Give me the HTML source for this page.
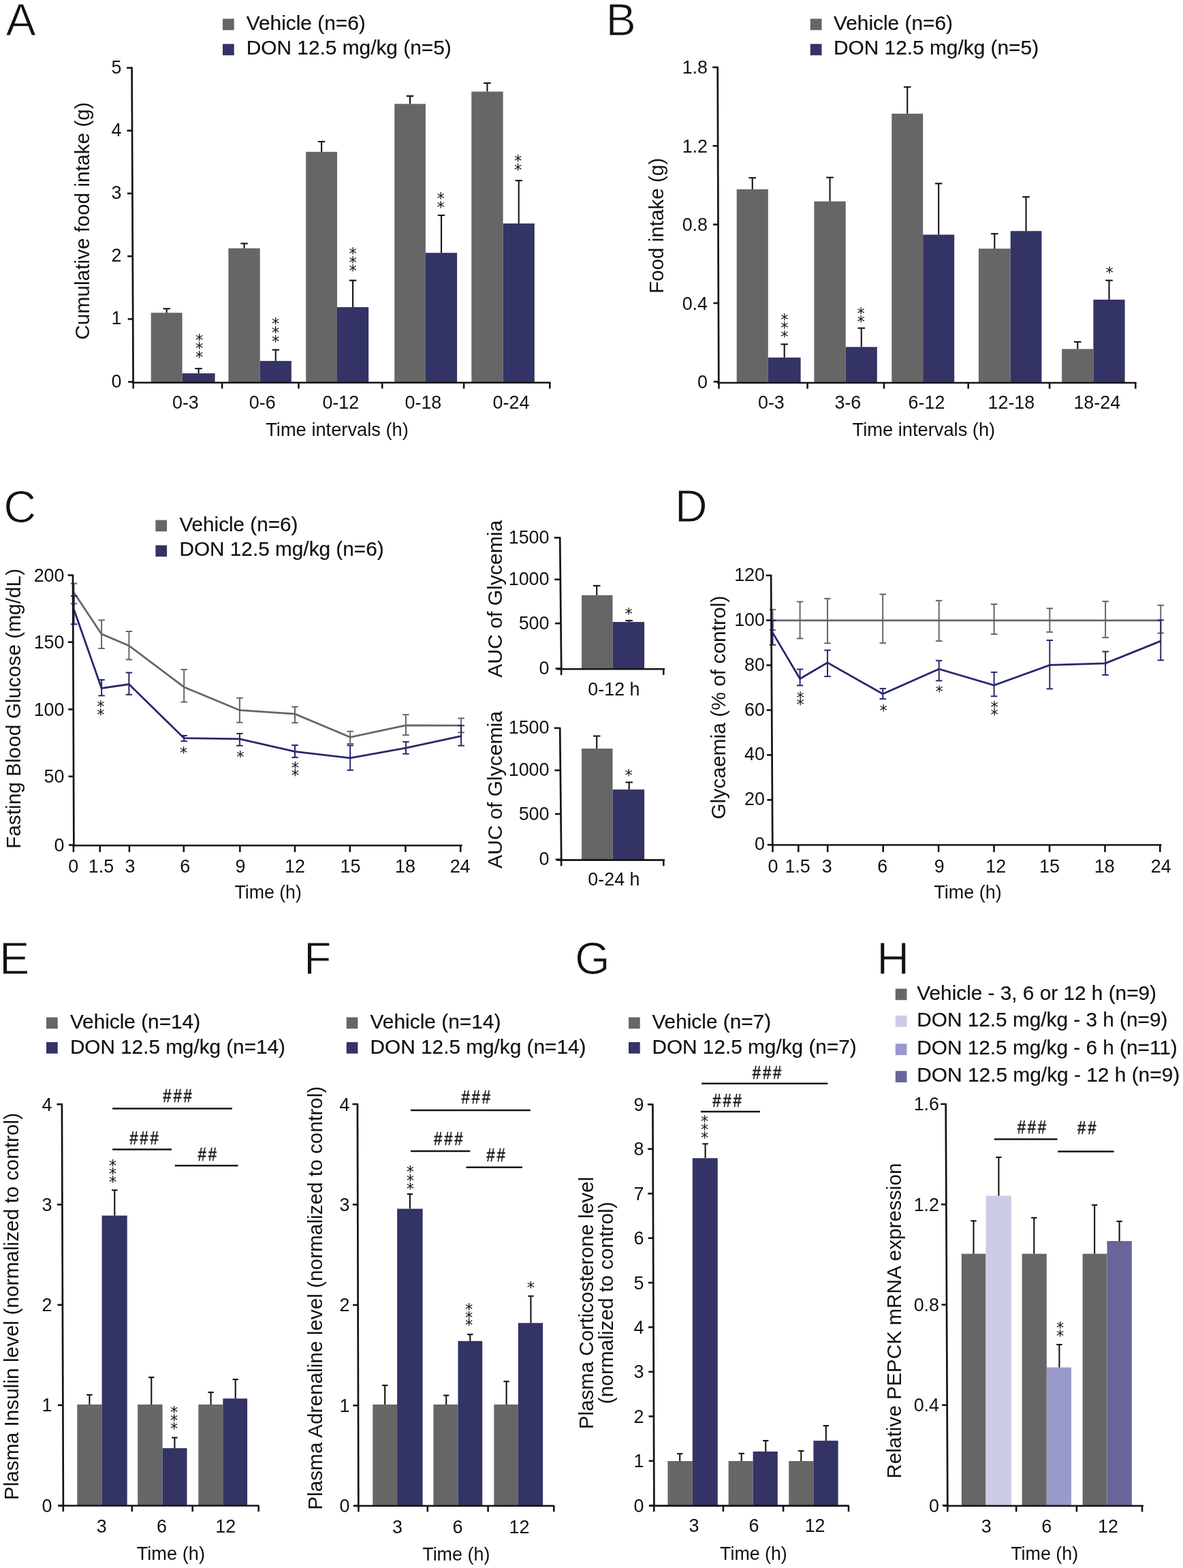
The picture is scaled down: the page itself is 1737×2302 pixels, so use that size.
<!DOCTYPE html>
<html><head><meta charset="utf-8"><title>Figure</title><style>
html,body{margin:0;padding:0;background:#fff;}
svg{display:block;}
text{font-family:"Liberation Sans",Arial,sans-serif;}
text.let{stroke:#fff;stroke-width:1.1px;}
text.leg{stroke:#111;stroke-width:0.2px;}
text.hs{stroke:#111;stroke-width:0.45px;}
text.st{font-family:"DejaVu Sans","Liberation Sans",sans-serif;fill:#111;text-anchor:middle;}
</style></head><body>
<svg width="1737" height="2302" viewBox="0 0 1737 2302">
<rect width="1737" height="2302" fill="#fff"/>
<text x="8.6" y="51.9" font-size="66.5" fill="#111" class="let">A</text>
<rect x="327" y="27.5" width="16.7" height="16.7" fill="#666666"/>
<text x="361.7" y="43.8" font-size="29.5" fill="#111" textLength="175" lengthAdjust="spacingAndGlyphs" class="leg">Vehicle (n=6)</text>
<rect x="327" y="64.5" width="16.7" height="16.7" fill="#333366"/>
<text x="361.7" y="80.2" font-size="29.5" fill="#111" textLength="301.1" lengthAdjust="spacingAndGlyphs" class="leg">DON 12.5 mg/kg (n=5)</text>
<rect x="221.7" y="459.2" width="45.9" height="101.8" fill="#666666"/>
<rect x="267.6" y="548.1" width="48" height="12.9" fill="#333366"/>
<rect x="335.4" y="364.5" width="46.3" height="196.5" fill="#666666"/>
<rect x="381.7" y="529.9" width="46.1" height="31.1" fill="#333366"/>
<rect x="449.2" y="222.9" width="45.8" height="338.1" fill="#666666"/>
<rect x="495" y="450.9" width="46.2" height="110.1" fill="#333366"/>
<rect x="579.2" y="152.5" width="45.7" height="408.5" fill="#666666"/>
<rect x="624.9" y="371.2" width="46.2" height="189.8" fill="#333366"/>
<rect x="692.3" y="134.5" width="46.3" height="426.5" fill="#666666"/>
<rect x="738.6" y="328.1" width="46.2" height="232.9" fill="#333366"/>
<line x1="244.65" y1="459.2" x2="244.65" y2="453.2" stroke="#141414" stroke-width="2.1" stroke-linecap="butt"/>
<line x1="239.4" y1="453.2" x2="249.9" y2="453.2" stroke="#141414" stroke-width="2.1" stroke-linecap="butt"/>
<line x1="291.6" y1="548.1" x2="291.6" y2="541.1" stroke="#141414" stroke-width="2.1" stroke-linecap="butt"/>
<line x1="286.35" y1="541.1" x2="296.85" y2="541.1" stroke="#141414" stroke-width="2.1" stroke-linecap="butt"/>
<line x1="358.55" y1="364.5" x2="358.55" y2="357.5" stroke="#141414" stroke-width="2.1" stroke-linecap="butt"/>
<line x1="353.3" y1="357.5" x2="363.8" y2="357.5" stroke="#141414" stroke-width="2.1" stroke-linecap="butt"/>
<line x1="404.75" y1="529.9" x2="404.75" y2="513.6" stroke="#141414" stroke-width="2.1" stroke-linecap="butt"/>
<line x1="399.5" y1="513.6" x2="410" y2="513.6" stroke="#141414" stroke-width="2.1" stroke-linecap="butt"/>
<line x1="472.1" y1="222.9" x2="472.1" y2="207.9" stroke="#141414" stroke-width="2.1" stroke-linecap="butt"/>
<line x1="466.85" y1="207.9" x2="477.35" y2="207.9" stroke="#141414" stroke-width="2.1" stroke-linecap="butt"/>
<line x1="518.1" y1="450.9" x2="518.1" y2="411.7" stroke="#141414" stroke-width="2.1" stroke-linecap="butt"/>
<line x1="512.85" y1="411.7" x2="523.35" y2="411.7" stroke="#141414" stroke-width="2.1" stroke-linecap="butt"/>
<line x1="602.05" y1="152.5" x2="602.05" y2="141" stroke="#141414" stroke-width="2.1" stroke-linecap="butt"/>
<line x1="596.8" y1="141" x2="607.3" y2="141" stroke="#141414" stroke-width="2.1" stroke-linecap="butt"/>
<line x1="648" y1="371.2" x2="648" y2="316.1" stroke="#141414" stroke-width="2.1" stroke-linecap="butt"/>
<line x1="642.75" y1="316.1" x2="653.25" y2="316.1" stroke="#141414" stroke-width="2.1" stroke-linecap="butt"/>
<line x1="715.45" y1="134.5" x2="715.45" y2="122" stroke="#141414" stroke-width="2.1" stroke-linecap="butt"/>
<line x1="710.2" y1="122" x2="720.7" y2="122" stroke="#141414" stroke-width="2.1" stroke-linecap="butt"/>
<line x1="761.7" y1="328.1" x2="761.7" y2="265.1" stroke="#141414" stroke-width="2.1" stroke-linecap="butt"/>
<line x1="756.45" y1="265.1" x2="766.95" y2="265.1" stroke="#141414" stroke-width="2.1" stroke-linecap="butt"/>
<line x1="193.6" y1="98.5" x2="195.6" y2="563" stroke="#141414" stroke-width="2.7" stroke-linecap="butt"/>
<line x1="188.09" y1="560.6" x2="195.59" y2="560.6" stroke="#141414" stroke-width="2.6" stroke-linecap="butt"/>
<text transform="translate(178.5 568.6) scale(0.96 1)" font-size="28" text-anchor="end" fill="#111">0</text>
<line x1="187.69" y1="468.4" x2="195.19" y2="468.4" stroke="#141414" stroke-width="2.6" stroke-linecap="butt"/>
<text transform="translate(178.5 476.4) scale(0.96 1)" font-size="28" text-anchor="end" fill="#111">1</text>
<line x1="187.29" y1="376.2" x2="194.79" y2="376.2" stroke="#141414" stroke-width="2.6" stroke-linecap="butt"/>
<text transform="translate(178.5 384.2) scale(0.96 1)" font-size="28" text-anchor="end" fill="#111">2</text>
<line x1="186.9" y1="284" x2="194.4" y2="284" stroke="#141414" stroke-width="2.6" stroke-linecap="butt"/>
<text transform="translate(178.5 292) scale(0.96 1)" font-size="28" text-anchor="end" fill="#111">3</text>
<line x1="186.5" y1="191.8" x2="194" y2="191.8" stroke="#141414" stroke-width="2.6" stroke-linecap="butt"/>
<text transform="translate(178.5 199.8) scale(0.96 1)" font-size="28" text-anchor="end" fill="#111">4</text>
<line x1="186.1" y1="99.6" x2="193.6" y2="99.6" stroke="#141414" stroke-width="2.6" stroke-linecap="butt"/>
<text transform="translate(178.5 107.6) scale(0.96 1)" font-size="28" text-anchor="end" fill="#111">5</text>
<line x1="194" y1="561.8" x2="808.5" y2="561.8" stroke="#141414" stroke-width="2.6" stroke-linecap="butt"/>
<line x1="195.7" y1="561.8" x2="195.7" y2="570.5" stroke="#141414" stroke-width="2.6" stroke-linecap="butt"/>
<line x1="326.1" y1="561.8" x2="326.1" y2="570.5" stroke="#141414" stroke-width="2.6" stroke-linecap="butt"/>
<line x1="438.5" y1="561.8" x2="438.5" y2="570.5" stroke="#141414" stroke-width="2.6" stroke-linecap="butt"/>
<line x1="561.2" y1="561.8" x2="561.2" y2="570.5" stroke="#141414" stroke-width="2.6" stroke-linecap="butt"/>
<line x1="681.1" y1="561.8" x2="681.1" y2="570.5" stroke="#141414" stroke-width="2.6" stroke-linecap="butt"/>
<line x1="807.3" y1="561.8" x2="807.3" y2="570.5" stroke="#141414" stroke-width="2.6" stroke-linecap="butt"/>
<text transform="translate(272.4 599.7) scale(0.96 1)" font-size="28" text-anchor="middle" fill="#111">0-3</text>
<text transform="translate(385.2 599.7) scale(0.96 1)" font-size="28" text-anchor="middle" fill="#111">0-6</text>
<text transform="translate(500.3 599.7) scale(0.96 1)" font-size="28" text-anchor="middle" fill="#111">0-12</text>
<text transform="translate(621.4 599.7) scale(0.96 1)" font-size="28" text-anchor="middle" fill="#111">0-18</text>
<text transform="translate(750.5 599.7) scale(0.96 1)" font-size="28" text-anchor="middle" fill="#111">0-24</text>
<text x="390.2" y="640.4" font-size="28" fill="#111" textLength="209.7" lengthAdjust="spacingAndGlyphs">Time intervals (h)</text>
<text x="131" y="498.7" font-size="30" fill="#111" textLength="348.6" lengthAdjust="spacingAndGlyphs" transform="rotate(-90 131 498.7)">Cumulative food intake (g)</text>
<text class="st" x="292.6" y="506.7" font-size="22.5">*</text>
<text class="st" x="292.6" y="519.45" font-size="22.5">*</text>
<text class="st" x="292.6" y="532.2" font-size="22.5">*</text>
<text class="st" x="404.5" y="482.9" font-size="22.5">*</text>
<text class="st" x="404.5" y="496" font-size="22.5">*</text>
<text class="st" x="404.5" y="509.1" font-size="22.5">*</text>
<text class="st" x="518" y="380.4" font-size="22.5">*</text>
<text class="st" x="518" y="392.9" font-size="22.5">*</text>
<text class="st" x="518" y="405.4" font-size="22.5">*</text>
<text class="st" x="647.2" y="298.6" font-size="22.5">*</text>
<text class="st" x="647.2" y="311.6" font-size="22.5">*</text>
<text class="st" x="760.7" y="244.1" font-size="22.5">*</text>
<text class="st" x="760.7" y="256.6" font-size="22.5">*</text>
<text x="889.5" y="52.4" font-size="66.5" fill="#111" class="let">B</text>
<rect x="1189.8" y="27.5" width="16.7" height="16.7" fill="#666666"/>
<text x="1224" y="43.8" font-size="29.5" fill="#111" textLength="175" lengthAdjust="spacingAndGlyphs" class="leg">Vehicle (n=6)</text>
<rect x="1189.8" y="64.5" width="16.7" height="16.7" fill="#333366"/>
<text x="1224" y="80.2" font-size="29.5" fill="#111" textLength="301.1" lengthAdjust="spacingAndGlyphs" class="leg">DON 12.5 mg/kg (n=5)</text>
<rect x="1081.7" y="277.9" width="46.1" height="283.1" fill="#666666"/>
<rect x="1127.8" y="524.9" width="47.8" height="36.1" fill="#333366"/>
<rect x="1195.4" y="295.6" width="46.3" height="265.4" fill="#666666"/>
<rect x="1241.7" y="509.4" width="46.1" height="51.6" fill="#333366"/>
<rect x="1309.3" y="166.9" width="45.9" height="394.1" fill="#666666"/>
<rect x="1355.2" y="344.5" width="46" height="216.5" fill="#333366"/>
<rect x="1436.9" y="365" width="46.8" height="196" fill="#666666"/>
<rect x="1483.7" y="339.2" width="45.7" height="221.8" fill="#333366"/>
<rect x="1559.1" y="512.4" width="46.3" height="48.6" fill="#666666"/>
<rect x="1605.4" y="439.9" width="46.2" height="121.1" fill="#333366"/>
<line x1="1104.75" y1="277.9" x2="1104.75" y2="261.1" stroke="#141414" stroke-width="2.1" stroke-linecap="butt"/>
<line x1="1099.5" y1="261.1" x2="1110" y2="261.1" stroke="#141414" stroke-width="2.1" stroke-linecap="butt"/>
<line x1="1151.7" y1="524.9" x2="1151.7" y2="505.4" stroke="#141414" stroke-width="2.1" stroke-linecap="butt"/>
<line x1="1146.45" y1="505.4" x2="1156.95" y2="505.4" stroke="#141414" stroke-width="2.1" stroke-linecap="butt"/>
<line x1="1218.55" y1="295.6" x2="1218.55" y2="260.6" stroke="#141414" stroke-width="2.1" stroke-linecap="butt"/>
<line x1="1213.3" y1="260.6" x2="1223.8" y2="260.6" stroke="#141414" stroke-width="2.1" stroke-linecap="butt"/>
<line x1="1264.75" y1="509.4" x2="1264.75" y2="481.7" stroke="#141414" stroke-width="2.1" stroke-linecap="butt"/>
<line x1="1259.5" y1="481.7" x2="1270" y2="481.7" stroke="#141414" stroke-width="2.1" stroke-linecap="butt"/>
<line x1="1332.25" y1="166.9" x2="1332.25" y2="127.7" stroke="#141414" stroke-width="2.1" stroke-linecap="butt"/>
<line x1="1327" y1="127.7" x2="1337.5" y2="127.7" stroke="#141414" stroke-width="2.1" stroke-linecap="butt"/>
<line x1="1378.2" y1="344.5" x2="1378.2" y2="269.4" stroke="#141414" stroke-width="2.1" stroke-linecap="butt"/>
<line x1="1372.95" y1="269.4" x2="1383.45" y2="269.4" stroke="#141414" stroke-width="2.1" stroke-linecap="butt"/>
<line x1="1460.3" y1="365" x2="1460.3" y2="343.2" stroke="#141414" stroke-width="2.1" stroke-linecap="butt"/>
<line x1="1455.05" y1="343.2" x2="1465.55" y2="343.2" stroke="#141414" stroke-width="2.1" stroke-linecap="butt"/>
<line x1="1506.55" y1="339.2" x2="1506.55" y2="289.1" stroke="#141414" stroke-width="2.1" stroke-linecap="butt"/>
<line x1="1501.3" y1="289.1" x2="1511.8" y2="289.1" stroke="#141414" stroke-width="2.1" stroke-linecap="butt"/>
<line x1="1582.25" y1="512.4" x2="1582.25" y2="501.9" stroke="#141414" stroke-width="2.1" stroke-linecap="butt"/>
<line x1="1577" y1="501.9" x2="1587.5" y2="501.9" stroke="#141414" stroke-width="2.1" stroke-linecap="butt"/>
<line x1="1628.5" y1="439.9" x2="1628.5" y2="411.7" stroke="#141414" stroke-width="2.1" stroke-linecap="butt"/>
<line x1="1623.25" y1="411.7" x2="1633.75" y2="411.7" stroke="#141414" stroke-width="2.1" stroke-linecap="butt"/>
<line x1="1053.7" y1="97.7" x2="1055.3" y2="563" stroke="#141414" stroke-width="2.7" stroke-linecap="butt"/>
<line x1="1047.79" y1="560.4" x2="1055.29" y2="560.4" stroke="#141414" stroke-width="2.6" stroke-linecap="butt"/>
<text transform="translate(1039 569.9) scale(0.96 1)" font-size="28" text-anchor="end" fill="#111">0</text>
<line x1="1047.39" y1="445" x2="1054.89" y2="445" stroke="#141414" stroke-width="2.6" stroke-linecap="butt"/>
<text transform="translate(1039 454.5) scale(0.96 1)" font-size="28" text-anchor="end" fill="#111">0.4</text>
<line x1="1047" y1="329.6" x2="1054.5" y2="329.6" stroke="#141414" stroke-width="2.6" stroke-linecap="butt"/>
<text transform="translate(1039 339.1) scale(0.96 1)" font-size="28" text-anchor="end" fill="#111">0.8</text>
<line x1="1046.6" y1="214.2" x2="1054.1" y2="214.2" stroke="#141414" stroke-width="2.6" stroke-linecap="butt"/>
<text transform="translate(1039 223.7) scale(0.96 1)" font-size="28" text-anchor="end" fill="#111">1.2</text>
<line x1="1046.2" y1="98.8" x2="1053.7" y2="98.8" stroke="#141414" stroke-width="2.6" stroke-linecap="butt"/>
<text transform="translate(1039 108.3) scale(0.96 1)" font-size="28" text-anchor="end" fill="#111">1.8</text>
<line x1="1053" y1="562" x2="1668.5" y2="562" stroke="#141414" stroke-width="2.6" stroke-linecap="butt"/>
<line x1="1055.5" y1="562" x2="1055.5" y2="570.7" stroke="#141414" stroke-width="2.6" stroke-linecap="butt"/>
<line x1="1185.6" y1="562" x2="1185.6" y2="570.7" stroke="#141414" stroke-width="2.6" stroke-linecap="butt"/>
<line x1="1298" y1="562" x2="1298" y2="570.7" stroke="#141414" stroke-width="2.6" stroke-linecap="butt"/>
<line x1="1421.7" y1="562" x2="1421.7" y2="570.7" stroke="#141414" stroke-width="2.6" stroke-linecap="butt"/>
<line x1="1541.1" y1="562" x2="1541.1" y2="570.7" stroke="#141414" stroke-width="2.6" stroke-linecap="butt"/>
<line x1="1667.3" y1="562" x2="1667.3" y2="570.7" stroke="#141414" stroke-width="2.6" stroke-linecap="butt"/>
<text transform="translate(1132.4 599.8) scale(0.96 1)" font-size="28" text-anchor="middle" fill="#111">0-3</text>
<text transform="translate(1244.9 599.8) scale(0.96 1)" font-size="28" text-anchor="middle" fill="#111">3-6</text>
<text transform="translate(1360.5 599.8) scale(0.96 1)" font-size="28" text-anchor="middle" fill="#111">6-12</text>
<text transform="translate(1484.9 599.8) scale(0.96 1)" font-size="28" text-anchor="middle" fill="#111">12-18</text>
<text transform="translate(1610.8 599.8) scale(0.96 1)" font-size="28" text-anchor="middle" fill="#111">18-24</text>
<text x="1251.5" y="639.8" font-size="28" fill="#111" textLength="209.7" lengthAdjust="spacingAndGlyphs">Time intervals (h)</text>
<text x="973.5" y="431" font-size="30" fill="#111" textLength="199.1" lengthAdjust="spacingAndGlyphs" transform="rotate(-90 973.5 431)">Food intake (g)</text>
<text class="st" x="1151.9" y="476.6" font-size="22.5">*</text>
<text class="st" x="1151.9" y="489.1" font-size="22.5">*</text>
<text class="st" x="1151.9" y="501.6" font-size="22.5">*</text>
<text class="st" x="1264.2" y="467.9" font-size="22.5">*</text>
<text class="st" x="1264.2" y="480.4" font-size="22.5">*</text>
<text class="st" x="1629" y="407.9" font-size="22.5">*</text>
<text x="5.3" y="766.6" font-size="66.5" fill="#111" class="let">C</text>
<rect x="228.4" y="763.5" width="16.7" height="16.7" fill="#666666"/>
<text x="263.4" y="779.7" font-size="29.5" fill="#111" textLength="174.1" lengthAdjust="spacingAndGlyphs" class="leg">Vehicle (n=6)</text>
<rect x="228.4" y="800.5" width="16.7" height="16.7" fill="#333366"/>
<text x="263.4" y="816.4" font-size="29.5" fill="#111" textLength="300.3" lengthAdjust="spacingAndGlyphs" class="leg">DON 12.5 mg/kg (n=6)</text>
<line x1="108.6" y1="856.6" x2="108.6" y2="886.3" stroke="#666666" stroke-width="2" stroke-linecap="butt"/>
<line x1="103.85" y1="856.6" x2="113.35" y2="856.6" stroke="#666666" stroke-width="2" stroke-linecap="butt"/>
<line x1="103.85" y1="886.3" x2="113.35" y2="886.3" stroke="#666666" stroke-width="2" stroke-linecap="butt"/>
<line x1="149.1" y1="910.4" x2="149.1" y2="952" stroke="#666666" stroke-width="2" stroke-linecap="butt"/>
<line x1="144.35" y1="910.4" x2="153.85" y2="910.4" stroke="#666666" stroke-width="2" stroke-linecap="butt"/>
<line x1="144.35" y1="952" x2="153.85" y2="952" stroke="#666666" stroke-width="2" stroke-linecap="butt"/>
<line x1="189.4" y1="927" x2="189.4" y2="968.4" stroke="#666666" stroke-width="2" stroke-linecap="butt"/>
<line x1="184.65" y1="927" x2="194.15" y2="927" stroke="#666666" stroke-width="2" stroke-linecap="butt"/>
<line x1="184.65" y1="968.4" x2="194.15" y2="968.4" stroke="#666666" stroke-width="2" stroke-linecap="butt"/>
<line x1="270.2" y1="982.9" x2="270.2" y2="1030.6" stroke="#666666" stroke-width="2" stroke-linecap="butt"/>
<line x1="265.45" y1="982.9" x2="274.95" y2="982.9" stroke="#666666" stroke-width="2" stroke-linecap="butt"/>
<line x1="265.45" y1="1030.6" x2="274.95" y2="1030.6" stroke="#666666" stroke-width="2" stroke-linecap="butt"/>
<line x1="351.9" y1="1024.7" x2="351.9" y2="1060.7" stroke="#666666" stroke-width="2" stroke-linecap="butt"/>
<line x1="347.15" y1="1024.7" x2="356.65" y2="1024.7" stroke="#666666" stroke-width="2" stroke-linecap="butt"/>
<line x1="347.15" y1="1060.7" x2="356.65" y2="1060.7" stroke="#666666" stroke-width="2" stroke-linecap="butt"/>
<line x1="433" y1="1037.7" x2="433" y2="1061.1" stroke="#666666" stroke-width="2" stroke-linecap="butt"/>
<line x1="428.25" y1="1037.7" x2="437.75" y2="1037.7" stroke="#666666" stroke-width="2" stroke-linecap="butt"/>
<line x1="428.25" y1="1061.1" x2="437.75" y2="1061.1" stroke="#666666" stroke-width="2" stroke-linecap="butt"/>
<line x1="514.2" y1="1073.7" x2="514.2" y2="1092" stroke="#666666" stroke-width="2" stroke-linecap="butt"/>
<line x1="509.45" y1="1073.7" x2="518.95" y2="1073.7" stroke="#666666" stroke-width="2" stroke-linecap="butt"/>
<line x1="509.45" y1="1092" x2="518.95" y2="1092" stroke="#666666" stroke-width="2" stroke-linecap="butt"/>
<line x1="595.9" y1="1049.2" x2="595.9" y2="1079.1" stroke="#666666" stroke-width="2" stroke-linecap="butt"/>
<line x1="591.15" y1="1049.2" x2="600.65" y2="1049.2" stroke="#666666" stroke-width="2" stroke-linecap="butt"/>
<line x1="591.15" y1="1079.1" x2="600.65" y2="1079.1" stroke="#666666" stroke-width="2" stroke-linecap="butt"/>
<line x1="677.1" y1="1054.5" x2="677.1" y2="1075.3" stroke="#666666" stroke-width="2" stroke-linecap="butt"/>
<line x1="672.35" y1="1054.5" x2="681.85" y2="1054.5" stroke="#666666" stroke-width="2" stroke-linecap="butt"/>
<line x1="672.35" y1="1075.3" x2="681.85" y2="1075.3" stroke="#666666" stroke-width="2" stroke-linecap="butt"/>
<polyline points="108.6,869.9 149.1,930.9 189.4,947.9 270.2,1008.7 351.9,1042.7 433,1048.2 514.2,1082.3 595.9,1065 677.1,1065.2" fill="none" stroke="#666666" stroke-width="2.8" stroke-linejoin="miter" stroke-miterlimit="3"/>
<line x1="108.6" y1="875.1" x2="108.6" y2="916.4" stroke="#27296a" stroke-width="2" stroke-linecap="butt"/>
<line x1="103.85" y1="875.1" x2="113.35" y2="875.1" stroke="#27296a" stroke-width="2" stroke-linecap="butt"/>
<line x1="103.85" y1="916.4" x2="113.35" y2="916.4" stroke="#27296a" stroke-width="2" stroke-linecap="butt"/>
<line x1="149.1" y1="998.1" x2="149.1" y2="1021.3" stroke="#27296a" stroke-width="2" stroke-linecap="butt"/>
<line x1="144.35" y1="998.1" x2="153.85" y2="998.1" stroke="#27296a" stroke-width="2" stroke-linecap="butt"/>
<line x1="144.35" y1="1021.3" x2="153.85" y2="1021.3" stroke="#27296a" stroke-width="2" stroke-linecap="butt"/>
<line x1="189.4" y1="987.5" x2="189.4" y2="1019.8" stroke="#27296a" stroke-width="2" stroke-linecap="butt"/>
<line x1="184.65" y1="987.5" x2="194.15" y2="987.5" stroke="#27296a" stroke-width="2" stroke-linecap="butt"/>
<line x1="184.65" y1="1019.8" x2="194.15" y2="1019.8" stroke="#27296a" stroke-width="2" stroke-linecap="butt"/>
<line x1="270.2" y1="1080" x2="270.2" y2="1088.2" stroke="#27296a" stroke-width="2" stroke-linecap="butt"/>
<line x1="265.45" y1="1080" x2="274.95" y2="1080" stroke="#27296a" stroke-width="2" stroke-linecap="butt"/>
<line x1="265.45" y1="1088.2" x2="274.95" y2="1088.2" stroke="#27296a" stroke-width="2" stroke-linecap="butt"/>
<line x1="351.9" y1="1076.9" x2="351.9" y2="1094.7" stroke="#27296a" stroke-width="2" stroke-linecap="butt"/>
<line x1="347.15" y1="1076.9" x2="356.65" y2="1076.9" stroke="#27296a" stroke-width="2" stroke-linecap="butt"/>
<line x1="347.15" y1="1094.7" x2="356.65" y2="1094.7" stroke="#27296a" stroke-width="2" stroke-linecap="butt"/>
<line x1="433" y1="1094" x2="433" y2="1112" stroke="#27296a" stroke-width="2" stroke-linecap="butt"/>
<line x1="428.25" y1="1094" x2="437.75" y2="1094" stroke="#27296a" stroke-width="2" stroke-linecap="butt"/>
<line x1="428.25" y1="1112" x2="437.75" y2="1112" stroke="#27296a" stroke-width="2" stroke-linecap="butt"/>
<line x1="514.2" y1="1094.4" x2="514.2" y2="1130.7" stroke="#27296a" stroke-width="2" stroke-linecap="butt"/>
<line x1="509.45" y1="1094.4" x2="518.95" y2="1094.4" stroke="#27296a" stroke-width="2" stroke-linecap="butt"/>
<line x1="509.45" y1="1130.7" x2="518.95" y2="1130.7" stroke="#27296a" stroke-width="2" stroke-linecap="butt"/>
<line x1="595.9" y1="1089.1" x2="595.9" y2="1106.7" stroke="#27296a" stroke-width="2" stroke-linecap="butt"/>
<line x1="591.15" y1="1089.1" x2="600.65" y2="1089.1" stroke="#27296a" stroke-width="2" stroke-linecap="butt"/>
<line x1="591.15" y1="1106.7" x2="600.65" y2="1106.7" stroke="#27296a" stroke-width="2" stroke-linecap="butt"/>
<line x1="677.1" y1="1065.2" x2="677.1" y2="1094.7" stroke="#27296a" stroke-width="2" stroke-linecap="butt"/>
<line x1="672.35" y1="1065.2" x2="681.85" y2="1065.2" stroke="#27296a" stroke-width="2" stroke-linecap="butt"/>
<line x1="672.35" y1="1094.7" x2="681.85" y2="1094.7" stroke="#27296a" stroke-width="2" stroke-linecap="butt"/>
<polyline points="108.6,895 149.1,1010.5 189.4,1004.6 270.2,1083.7 351.9,1084.8 433,1103.4 514.2,1112.9 595.9,1098.1 677.1,1080.6" fill="none" stroke="#27296a" stroke-width="2.8" stroke-linejoin="miter" stroke-miterlimit="3"/>
<line x1="107" y1="843.5" x2="108.4" y2="1242.5" stroke="#141414" stroke-width="2.7" stroke-linecap="butt"/>
<line x1="100.89" y1="1240.6" x2="108.39" y2="1240.6" stroke="#141414" stroke-width="2.6" stroke-linecap="butt"/>
<text transform="translate(94.5 1250.1) scale(0.96 1)" font-size="28" text-anchor="end" fill="#111">0</text>
<line x1="100.54" y1="1139.9" x2="108.04" y2="1139.9" stroke="#141414" stroke-width="2.6" stroke-linecap="butt"/>
<text transform="translate(94.5 1149.4) scale(0.96 1)" font-size="28" text-anchor="end" fill="#111">50</text>
<line x1="100.19" y1="1041.4" x2="107.69" y2="1041.4" stroke="#141414" stroke-width="2.6" stroke-linecap="butt"/>
<text transform="translate(94.5 1050.9) scale(0.96 1)" font-size="28" text-anchor="end" fill="#111">100</text>
<line x1="99.85" y1="942.7" x2="107.35" y2="942.7" stroke="#141414" stroke-width="2.6" stroke-linecap="butt"/>
<text transform="translate(94.5 952.2) scale(0.96 1)" font-size="28" text-anchor="end" fill="#111">150</text>
<line x1="99.5" y1="844.5" x2="107" y2="844.5" stroke="#141414" stroke-width="2.6" stroke-linecap="butt"/>
<text transform="translate(94.5 854) scale(0.96 1)" font-size="28" text-anchor="end" fill="#111">200</text>
<line x1="106.5" y1="1241.3" x2="678.6" y2="1241.3" stroke="#141414" stroke-width="2.6" stroke-linecap="butt"/>
<line x1="107.9" y1="1241.3" x2="107.9" y2="1251" stroke="#141414" stroke-width="2.6" stroke-linecap="butt"/>
<line x1="146.7" y1="1241.3" x2="146.7" y2="1251" stroke="#141414" stroke-width="2.6" stroke-linecap="butt"/>
<line x1="189.9" y1="1241.3" x2="189.9" y2="1251" stroke="#141414" stroke-width="2.6" stroke-linecap="butt"/>
<line x1="269.8" y1="1241.3" x2="269.8" y2="1251" stroke="#141414" stroke-width="2.6" stroke-linecap="butt"/>
<line x1="352.3" y1="1241.3" x2="352.3" y2="1251" stroke="#141414" stroke-width="2.6" stroke-linecap="butt"/>
<line x1="433" y1="1241.3" x2="433" y2="1251" stroke="#141414" stroke-width="2.6" stroke-linecap="butt"/>
<line x1="513.8" y1="1241.3" x2="513.8" y2="1251" stroke="#141414" stroke-width="2.6" stroke-linecap="butt"/>
<line x1="595.4" y1="1241.3" x2="595.4" y2="1251" stroke="#141414" stroke-width="2.6" stroke-linecap="butt"/>
<line x1="676.2" y1="1241.3" x2="676.2" y2="1251" stroke="#141414" stroke-width="2.6" stroke-linecap="butt"/>
<text transform="translate(107.8 1281.1) scale(0.96 1)" font-size="28" text-anchor="middle" fill="#111">0</text>
<text transform="translate(148.4 1281.1) scale(0.96 1)" font-size="28" text-anchor="middle" fill="#111">1.5</text>
<text transform="translate(190.9 1281.1) scale(0.96 1)" font-size="28" text-anchor="middle" fill="#111">3</text>
<text transform="translate(271.7 1281.1) scale(0.96 1)" font-size="28" text-anchor="middle" fill="#111">6</text>
<text transform="translate(352.9 1281.1) scale(0.96 1)" font-size="28" text-anchor="middle" fill="#111">9</text>
<text transform="translate(433 1281.1) scale(0.96 1)" font-size="28" text-anchor="middle" fill="#111">12</text>
<text transform="translate(514.4 1281.1) scale(0.96 1)" font-size="28" text-anchor="middle" fill="#111">15</text>
<text transform="translate(595 1281.1) scale(0.96 1)" font-size="28" text-anchor="middle" fill="#111">18</text>
<text transform="translate(675.6 1281.1) scale(0.96 1)" font-size="28" text-anchor="middle" fill="#111">24</text>
<text x="344.4" y="1318.6" font-size="28" fill="#111" textLength="98.5" lengthAdjust="spacingAndGlyphs">Time (h)</text>
<text x="30" y="1246" font-size="30" fill="#111" textLength="411.1" lengthAdjust="spacingAndGlyphs" transform="rotate(-90 30 1246)">Fasting Blood Glucose (mg/dL)</text>
<text class="st" x="147.8" y="1045.4" font-size="22.5">*</text>
<text class="st" x="147.8" y="1056.8" font-size="22.5">*</text>
<text class="st" x="269.5" y="1112.9" font-size="22.5">*</text>
<text class="st" x="352.9" y="1119.1" font-size="22.5">*</text>
<text class="st" x="433.4" y="1135.3" font-size="22.5">*</text>
<text class="st" x="433.4" y="1146" font-size="22.5">*</text>
<rect x="854" y="873.8" width="45.5" height="108.2" fill="#666666"/>
<rect x="899.5" y="913.1" width="46.6" height="68.9" fill="#333366"/>
<line x1="876.2" y1="873.8" x2="876.2" y2="859.9" stroke="#141414" stroke-width="2.1" stroke-linecap="butt"/>
<line x1="870.95" y1="859.9" x2="881.45" y2="859.9" stroke="#141414" stroke-width="2.1" stroke-linecap="butt"/>
<line x1="923.7" y1="913.1" x2="923.7" y2="911.1" stroke="#141414" stroke-width="2.1" stroke-linecap="butt"/>
<line x1="918.45" y1="911.1" x2="928.95" y2="911.1" stroke="#141414" stroke-width="2.1" stroke-linecap="butt"/>
<line x1="822.19" y1="788.4" x2="824.2" y2="983" stroke="#141414" stroke-width="2.7" stroke-linecap="butt"/>
<line x1="815.68" y1="981.5" x2="824.18" y2="981.5" stroke="#141414" stroke-width="2.6" stroke-linecap="butt"/>
<text transform="translate(806.5 990) scale(0.96 1)" font-size="28" text-anchor="end" fill="#111">0</text>
<line x1="815" y1="915.2" x2="823.5" y2="915.2" stroke="#141414" stroke-width="2.6" stroke-linecap="butt"/>
<text transform="translate(806.5 923.7) scale(0.96 1)" font-size="28" text-anchor="end" fill="#111">500</text>
<line x1="814.33" y1="850.7" x2="822.83" y2="850.7" stroke="#141414" stroke-width="2.6" stroke-linecap="butt"/>
<text transform="translate(806.5 859.2) scale(0.96 1)" font-size="28" text-anchor="end" fill="#111">1000</text>
<line x1="813.7" y1="789.4" x2="822.2" y2="789.4" stroke="#141414" stroke-width="2.6" stroke-linecap="butt"/>
<text transform="translate(806.5 797.9) scale(0.96 1)" font-size="28" text-anchor="end" fill="#111">1500</text>
<line x1="817.4" y1="982.3" x2="976" y2="982.3" stroke="#141414" stroke-width="2.6" stroke-linecap="butt"/>
<line x1="824.1" y1="982.3" x2="824.1" y2="991" stroke="#141414" stroke-width="2.6" stroke-linecap="butt"/>
<line x1="974.3" y1="982.3" x2="974.3" y2="991" stroke="#141414" stroke-width="2.6" stroke-linecap="butt"/>
<text class="st" x="923.2" y="909.3" font-size="22.5">*</text>
<text transform="translate(901.4 1021) scale(0.96 1)" font-size="28" text-anchor="middle" fill="#111">0-12 h</text>
<text x="736.9" y="994.8" font-size="30" fill="#111" textLength="231" lengthAdjust="spacingAndGlyphs" transform="rotate(-90 736.9 994.8)">AUC of Glycemia</text>
<rect x="854" y="1099" width="45.5" height="163.3" fill="#666666"/>
<rect x="899.5" y="1159.1" width="46.6" height="103.2" fill="#333366"/>
<line x1="876.2" y1="1099" x2="876.2" y2="1080.6" stroke="#141414" stroke-width="2.1" stroke-linecap="butt"/>
<line x1="870.95" y1="1080.6" x2="881.45" y2="1080.6" stroke="#141414" stroke-width="2.1" stroke-linecap="butt"/>
<line x1="923.7" y1="1159.1" x2="923.7" y2="1148.5" stroke="#141414" stroke-width="2.1" stroke-linecap="butt"/>
<line x1="918.45" y1="1148.5" x2="928.95" y2="1148.5" stroke="#141414" stroke-width="2.1" stroke-linecap="butt"/>
<line x1="822.19" y1="1067.9" x2="824.2" y2="1263.3" stroke="#141414" stroke-width="2.7" stroke-linecap="butt"/>
<line x1="815.68" y1="1261.8" x2="824.18" y2="1261.8" stroke="#141414" stroke-width="2.6" stroke-linecap="butt"/>
<text transform="translate(806.5 1270.3) scale(0.96 1)" font-size="28" text-anchor="end" fill="#111">0</text>
<line x1="815" y1="1195" x2="823.5" y2="1195" stroke="#141414" stroke-width="2.6" stroke-linecap="butt"/>
<text transform="translate(806.5 1203.5) scale(0.96 1)" font-size="28" text-anchor="end" fill="#111">500</text>
<line x1="814.34" y1="1130.9" x2="822.84" y2="1130.9" stroke="#141414" stroke-width="2.6" stroke-linecap="butt"/>
<text transform="translate(806.5 1139.4) scale(0.96 1)" font-size="28" text-anchor="end" fill="#111">1000</text>
<line x1="813.7" y1="1068.9" x2="822.2" y2="1068.9" stroke="#141414" stroke-width="2.6" stroke-linecap="butt"/>
<text transform="translate(806.5 1077.4) scale(0.96 1)" font-size="28" text-anchor="end" fill="#111">1500</text>
<line x1="817.4" y1="1262.6" x2="976" y2="1262.6" stroke="#141414" stroke-width="2.6" stroke-linecap="butt"/>
<line x1="824.1" y1="1262.6" x2="824.1" y2="1271.3" stroke="#141414" stroke-width="2.6" stroke-linecap="butt"/>
<line x1="974.3" y1="1262.6" x2="974.3" y2="1271.3" stroke="#141414" stroke-width="2.6" stroke-linecap="butt"/>
<text class="st" x="923.2" y="1145.5" font-size="22.5">*</text>
<text transform="translate(901.4 1299.5) scale(0.96 1)" font-size="28" text-anchor="middle" fill="#111">0-24 h</text>
<text x="736.9" y="1275.1" font-size="30" fill="#111" textLength="231.1" lengthAdjust="spacingAndGlyphs" transform="rotate(-90 736.9 1275.1)">AUC of Glycemia</text>
<text x="990.8" y="766" font-size="66.5" fill="#111" class="let">D</text>
<line x1="1134.5" y1="894.9" x2="1134.5" y2="924.9" stroke="#666666" stroke-width="2" stroke-linecap="butt"/>
<line x1="1129.75" y1="894.9" x2="1139.25" y2="894.9" stroke="#666666" stroke-width="2" stroke-linecap="butt"/>
<line x1="1129.75" y1="924.9" x2="1139.25" y2="924.9" stroke="#666666" stroke-width="2" stroke-linecap="butt"/>
<line x1="1174.6" y1="883.4" x2="1174.6" y2="937.4" stroke="#666666" stroke-width="2" stroke-linecap="butt"/>
<line x1="1169.85" y1="883.4" x2="1179.35" y2="883.4" stroke="#666666" stroke-width="2" stroke-linecap="butt"/>
<line x1="1169.85" y1="937.4" x2="1179.35" y2="937.4" stroke="#666666" stroke-width="2" stroke-linecap="butt"/>
<line x1="1215" y1="878.8" x2="1215" y2="944.3" stroke="#666666" stroke-width="2" stroke-linecap="butt"/>
<line x1="1210.25" y1="878.8" x2="1219.75" y2="878.8" stroke="#666666" stroke-width="2" stroke-linecap="butt"/>
<line x1="1210.25" y1="944.3" x2="1219.75" y2="944.3" stroke="#666666" stroke-width="2" stroke-linecap="butt"/>
<line x1="1296.2" y1="872.5" x2="1296.2" y2="944.1" stroke="#666666" stroke-width="2" stroke-linecap="butt"/>
<line x1="1291.45" y1="872.5" x2="1300.95" y2="872.5" stroke="#666666" stroke-width="2" stroke-linecap="butt"/>
<line x1="1291.45" y1="944.1" x2="1300.95" y2="944.1" stroke="#666666" stroke-width="2" stroke-linecap="butt"/>
<line x1="1378.7" y1="881.8" x2="1378.7" y2="941.1" stroke="#666666" stroke-width="2" stroke-linecap="butt"/>
<line x1="1373.95" y1="881.8" x2="1383.45" y2="881.8" stroke="#666666" stroke-width="2" stroke-linecap="butt"/>
<line x1="1373.95" y1="941.1" x2="1383.45" y2="941.1" stroke="#666666" stroke-width="2" stroke-linecap="butt"/>
<line x1="1459.6" y1="887.1" x2="1459.6" y2="931" stroke="#666666" stroke-width="2" stroke-linecap="butt"/>
<line x1="1454.85" y1="887.1" x2="1464.35" y2="887.1" stroke="#666666" stroke-width="2" stroke-linecap="butt"/>
<line x1="1454.85" y1="931" x2="1464.35" y2="931" stroke="#666666" stroke-width="2" stroke-linecap="butt"/>
<line x1="1541.3" y1="893.2" x2="1541.3" y2="927.9" stroke="#666666" stroke-width="2" stroke-linecap="butt"/>
<line x1="1536.55" y1="893.2" x2="1546.05" y2="893.2" stroke="#666666" stroke-width="2" stroke-linecap="butt"/>
<line x1="1536.55" y1="927.9" x2="1546.05" y2="927.9" stroke="#666666" stroke-width="2" stroke-linecap="butt"/>
<line x1="1623.1" y1="882.9" x2="1623.1" y2="936" stroke="#666666" stroke-width="2" stroke-linecap="butt"/>
<line x1="1618.35" y1="882.9" x2="1627.85" y2="882.9" stroke="#666666" stroke-width="2" stroke-linecap="butt"/>
<line x1="1618.35" y1="936" x2="1627.85" y2="936" stroke="#666666" stroke-width="2" stroke-linecap="butt"/>
<line x1="1704.3" y1="888.6" x2="1704.3" y2="929.5" stroke="#666666" stroke-width="2" stroke-linecap="butt"/>
<line x1="1699.55" y1="888.6" x2="1709.05" y2="888.6" stroke="#666666" stroke-width="2" stroke-linecap="butt"/>
<line x1="1699.55" y1="929.5" x2="1709.05" y2="929.5" stroke="#666666" stroke-width="2" stroke-linecap="butt"/>
<line x1="1134" y1="910.8" x2="1704.9" y2="910.8" stroke="#666666" stroke-width="2.8" stroke-linecap="butt"/>
<line x1="1134.5" y1="910.7" x2="1134.5" y2="946.7" stroke="#27296a" stroke-width="2" stroke-linecap="butt"/>
<line x1="1129.75" y1="910.7" x2="1139.25" y2="910.7" stroke="#27296a" stroke-width="2" stroke-linecap="butt"/>
<line x1="1129.75" y1="946.7" x2="1139.25" y2="946.7" stroke="#27296a" stroke-width="2" stroke-linecap="butt"/>
<line x1="1174.6" y1="982.6" x2="1174.6" y2="1006.4" stroke="#27296a" stroke-width="2" stroke-linecap="butt"/>
<line x1="1169.85" y1="982.6" x2="1179.35" y2="982.6" stroke="#27296a" stroke-width="2" stroke-linecap="butt"/>
<line x1="1169.85" y1="1006.4" x2="1179.35" y2="1006.4" stroke="#27296a" stroke-width="2" stroke-linecap="butt"/>
<line x1="1215" y1="954.6" x2="1215" y2="993.1" stroke="#27296a" stroke-width="2" stroke-linecap="butt"/>
<line x1="1210.25" y1="954.6" x2="1219.75" y2="954.6" stroke="#27296a" stroke-width="2" stroke-linecap="butt"/>
<line x1="1210.25" y1="993.1" x2="1219.75" y2="993.1" stroke="#27296a" stroke-width="2" stroke-linecap="butt"/>
<line x1="1296.2" y1="1010.9" x2="1296.2" y2="1026.1" stroke="#27296a" stroke-width="2" stroke-linecap="butt"/>
<line x1="1291.45" y1="1010.9" x2="1300.95" y2="1010.9" stroke="#27296a" stroke-width="2" stroke-linecap="butt"/>
<line x1="1291.45" y1="1026.1" x2="1300.95" y2="1026.1" stroke="#27296a" stroke-width="2" stroke-linecap="butt"/>
<line x1="1378.7" y1="969.8" x2="1378.7" y2="999.4" stroke="#27296a" stroke-width="2" stroke-linecap="butt"/>
<line x1="1373.95" y1="969.8" x2="1383.45" y2="969.8" stroke="#27296a" stroke-width="2" stroke-linecap="butt"/>
<line x1="1373.95" y1="999.4" x2="1383.45" y2="999.4" stroke="#27296a" stroke-width="2" stroke-linecap="butt"/>
<line x1="1459.6" y1="986.9" x2="1459.6" y2="1022.2" stroke="#27296a" stroke-width="2" stroke-linecap="butt"/>
<line x1="1454.85" y1="986.9" x2="1464.35" y2="986.9" stroke="#27296a" stroke-width="2" stroke-linecap="butt"/>
<line x1="1454.85" y1="1022.2" x2="1464.35" y2="1022.2" stroke="#27296a" stroke-width="2" stroke-linecap="butt"/>
<line x1="1541.3" y1="940" x2="1541.3" y2="1011.3" stroke="#27296a" stroke-width="2" stroke-linecap="butt"/>
<line x1="1536.55" y1="940" x2="1546.05" y2="940" stroke="#27296a" stroke-width="2" stroke-linecap="butt"/>
<line x1="1536.55" y1="1011.3" x2="1546.05" y2="1011.3" stroke="#27296a" stroke-width="2" stroke-linecap="butt"/>
<line x1="1623.1" y1="956.6" x2="1623.1" y2="990.9" stroke="#27296a" stroke-width="2" stroke-linecap="butt"/>
<line x1="1618.35" y1="956.6" x2="1627.85" y2="956.6" stroke="#27296a" stroke-width="2" stroke-linecap="butt"/>
<line x1="1618.35" y1="990.9" x2="1627.85" y2="990.9" stroke="#27296a" stroke-width="2" stroke-linecap="butt"/>
<line x1="1704.3" y1="910.4" x2="1704.3" y2="969.3" stroke="#27296a" stroke-width="2" stroke-linecap="butt"/>
<line x1="1699.55" y1="910.4" x2="1709.05" y2="910.4" stroke="#27296a" stroke-width="2" stroke-linecap="butt"/>
<line x1="1699.55" y1="969.3" x2="1709.05" y2="969.3" stroke="#27296a" stroke-width="2" stroke-linecap="butt"/>
<polyline points="1134.5,928.9 1174.6,996.5 1215,972.8 1296.2,1018.8 1378.7,982.2 1459.6,1006.1 1541.3,976.4 1623.1,973.8 1704.3,941.1" fill="none" stroke="#27296a" stroke-width="2.8" stroke-linejoin="miter" stroke-miterlimit="3"/>
<line x1="1132.09" y1="843.8" x2="1134.3" y2="1242" stroke="#141414" stroke-width="2.7" stroke-linecap="butt"/>
<line x1="1126.79" y1="1240.3" x2="1134.29" y2="1240.3" stroke="#141414" stroke-width="2.6" stroke-linecap="butt"/>
<text transform="translate(1123 1248.3) scale(0.96 1)" font-size="28" text-anchor="end" fill="#111">0</text>
<line x1="1126.43" y1="1174.38" x2="1133.93" y2="1174.38" stroke="#141414" stroke-width="2.6" stroke-linecap="butt"/>
<text transform="translate(1123 1182.38) scale(0.96 1)" font-size="28" text-anchor="end" fill="#111">20</text>
<line x1="1126.06" y1="1108.46" x2="1133.56" y2="1108.46" stroke="#141414" stroke-width="2.6" stroke-linecap="butt"/>
<text transform="translate(1123 1116.46) scale(0.96 1)" font-size="28" text-anchor="end" fill="#111">40</text>
<line x1="1125.7" y1="1042.54" x2="1133.2" y2="1042.54" stroke="#141414" stroke-width="2.6" stroke-linecap="butt"/>
<text transform="translate(1123 1050.54) scale(0.96 1)" font-size="28" text-anchor="end" fill="#111">60</text>
<line x1="1125.33" y1="976.62" x2="1132.83" y2="976.62" stroke="#141414" stroke-width="2.6" stroke-linecap="butt"/>
<text transform="translate(1123 984.62) scale(0.96 1)" font-size="28" text-anchor="end" fill="#111">80</text>
<line x1="1124.97" y1="910.7" x2="1132.47" y2="910.7" stroke="#141414" stroke-width="2.6" stroke-linecap="butt"/>
<text transform="translate(1123 918.7) scale(0.96 1)" font-size="28" text-anchor="end" fill="#111">100</text>
<line x1="1124.6" y1="844.78" x2="1132.1" y2="844.78" stroke="#141414" stroke-width="2.6" stroke-linecap="butt"/>
<text transform="translate(1123 852.78) scale(0.96 1)" font-size="28" text-anchor="end" fill="#111">120</text>
<line x1="1132" y1="1240.5" x2="1705.6" y2="1240.5" stroke="#141414" stroke-width="2.6" stroke-linecap="butt"/>
<line x1="1134.5" y1="1240.5" x2="1134.5" y2="1251" stroke="#141414" stroke-width="2.6" stroke-linecap="butt"/>
<line x1="1172.3" y1="1240.5" x2="1172.3" y2="1251" stroke="#141414" stroke-width="2.6" stroke-linecap="butt"/>
<line x1="1215.2" y1="1240.5" x2="1215.2" y2="1251" stroke="#141414" stroke-width="2.6" stroke-linecap="butt"/>
<line x1="1296.7" y1="1240.5" x2="1296.7" y2="1251" stroke="#141414" stroke-width="2.6" stroke-linecap="butt"/>
<line x1="1378.1" y1="1240.5" x2="1378.1" y2="1251" stroke="#141414" stroke-width="2.6" stroke-linecap="butt"/>
<line x1="1459.5" y1="1240.5" x2="1459.5" y2="1251" stroke="#141414" stroke-width="2.6" stroke-linecap="butt"/>
<line x1="1541" y1="1240.5" x2="1541" y2="1251" stroke="#141414" stroke-width="2.6" stroke-linecap="butt"/>
<line x1="1622.5" y1="1240.5" x2="1622.5" y2="1251" stroke="#141414" stroke-width="2.6" stroke-linecap="butt"/>
<line x1="1703.3" y1="1240.5" x2="1703.3" y2="1251" stroke="#141414" stroke-width="2.6" stroke-linecap="butt"/>
<text transform="translate(1134.9 1281.2) scale(0.96 1)" font-size="28" text-anchor="middle" fill="#111">0</text>
<text transform="translate(1171.1 1281.2) scale(0.96 1)" font-size="28" text-anchor="middle" fill="#111">1.5</text>
<text transform="translate(1214.1 1281.2) scale(0.96 1)" font-size="28" text-anchor="middle" fill="#111">3</text>
<text transform="translate(1295.6 1281.2) scale(0.96 1)" font-size="28" text-anchor="middle" fill="#111">6</text>
<text transform="translate(1379.2 1281.2) scale(0.96 1)" font-size="28" text-anchor="middle" fill="#111">9</text>
<text transform="translate(1462.2 1281.2) scale(0.96 1)" font-size="28" text-anchor="middle" fill="#111">12</text>
<text transform="translate(1541 1281.2) scale(0.96 1)" font-size="28" text-anchor="middle" fill="#111">15</text>
<text transform="translate(1621.8 1281.2) scale(0.96 1)" font-size="28" text-anchor="middle" fill="#111">18</text>
<text transform="translate(1704.7 1281.2) scale(0.96 1)" font-size="28" text-anchor="middle" fill="#111">24</text>
<text x="1371.3" y="1318.8" font-size="28" fill="#111" textLength="99.4" lengthAdjust="spacingAndGlyphs">Time (h)</text>
<text x="1064.8" y="1202.7" font-size="30" fill="#111" textLength="328.1" lengthAdjust="spacingAndGlyphs" transform="rotate(-90 1064.8 1202.7)">Glycaemia (% of control)</text>
<text class="st" x="1175" y="1031.6" font-size="22.5">*</text>
<text class="st" x="1175" y="1042.3" font-size="22.5">*</text>
<text class="st" x="1297" y="1050.75" font-size="22.5">*</text>
<text class="st" x="1379" y="1023.15" font-size="22.5">*</text>
<text class="st" x="1460.2" y="1045.6" font-size="22.5">*</text>
<text class="st" x="1460.2" y="1056.8" font-size="22.5">*</text>
<text x="-1.1" y="1429.9" font-size="66.5" fill="#111" class="let">E</text>
<rect x="68" y="1493.5" width="16.7" height="16.7" fill="#666666"/>
<text x="102.9" y="1510" font-size="29.5" fill="#111" textLength="191.2" lengthAdjust="spacingAndGlyphs" class="leg">Vehicle (n=14)</text>
<rect x="68" y="1530" width="16.7" height="16.7" fill="#333366"/>
<text x="102.9" y="1546.8" font-size="29.5" fill="#111" textLength="316" lengthAdjust="spacingAndGlyphs" class="leg">DON 12.5 mg/kg (n=14)</text>
<rect x="113.3" y="2062" width="36.3" height="148.2" fill="#666666"/>
<rect x="149.6" y="1784.6" width="37.1" height="425.6" fill="#333366"/>
<rect x="202.2" y="2062" width="36.4" height="148.2" fill="#666666"/>
<rect x="238.6" y="2126.1" width="35.9" height="84.1" fill="#333366"/>
<rect x="291.3" y="2062" width="36" height="148.2" fill="#666666"/>
<rect x="327.3" y="2053.2" width="35.8" height="157" fill="#333366"/>
<line x1="131.4" y1="2062" x2="131.4" y2="2047.8" stroke="#141414" stroke-width="2.1" stroke-linecap="butt"/>
<line x1="127.2" y1="2047.8" x2="135.6" y2="2047.8" stroke="#141414" stroke-width="2.1" stroke-linecap="butt"/>
<line x1="168.3" y1="1784.6" x2="168.3" y2="1747.3" stroke="#141414" stroke-width="2.1" stroke-linecap="butt"/>
<line x1="164.1" y1="1747.3" x2="172.5" y2="1747.3" stroke="#141414" stroke-width="2.1" stroke-linecap="butt"/>
<line x1="222.3" y1="2062" x2="222.3" y2="2022.1" stroke="#141414" stroke-width="2.1" stroke-linecap="butt"/>
<line x1="218.1" y1="2022.1" x2="226.5" y2="2022.1" stroke="#141414" stroke-width="2.1" stroke-linecap="butt"/>
<line x1="256.4" y1="2126.1" x2="256.4" y2="2110.6" stroke="#141414" stroke-width="2.1" stroke-linecap="butt"/>
<line x1="252.2" y1="2110.6" x2="260.6" y2="2110.6" stroke="#141414" stroke-width="2.1" stroke-linecap="butt"/>
<line x1="309.6" y1="2062" x2="309.6" y2="2044.1" stroke="#141414" stroke-width="2.1" stroke-linecap="butt"/>
<line x1="305.4" y1="2044.1" x2="313.8" y2="2044.1" stroke="#141414" stroke-width="2.1" stroke-linecap="butt"/>
<line x1="345.7" y1="2053.2" x2="345.7" y2="2025.1" stroke="#141414" stroke-width="2.1" stroke-linecap="butt"/>
<line x1="341.5" y1="2025.1" x2="349.9" y2="2025.1" stroke="#141414" stroke-width="2.1" stroke-linecap="butt"/>
<line x1="90.9" y1="1620" x2="92.9" y2="2212" stroke="#141414" stroke-width="2.7" stroke-linecap="butt"/>
<line x1="85.39" y1="2210.2" x2="92.89" y2="2210.2" stroke="#141414" stroke-width="2.6" stroke-linecap="butt"/>
<text transform="translate(76.5 2219.7) scale(0.96 1)" font-size="28" text-anchor="end" fill="#111">0</text>
<line x1="84.9" y1="2062.95" x2="92.4" y2="2062.95" stroke="#141414" stroke-width="2.6" stroke-linecap="butt"/>
<text transform="translate(76.5 2072.45) scale(0.96 1)" font-size="28" text-anchor="end" fill="#111">1</text>
<line x1="84.4" y1="1915.7" x2="91.9" y2="1915.7" stroke="#141414" stroke-width="2.6" stroke-linecap="butt"/>
<text transform="translate(76.5 1925.2) scale(0.96 1)" font-size="28" text-anchor="end" fill="#111">2</text>
<line x1="83.9" y1="1768.45" x2="91.4" y2="1768.45" stroke="#141414" stroke-width="2.6" stroke-linecap="butt"/>
<text transform="translate(76.5 1777.95) scale(0.96 1)" font-size="28" text-anchor="end" fill="#111">3</text>
<line x1="83.4" y1="1621.2" x2="90.9" y2="1621.2" stroke="#141414" stroke-width="2.6" stroke-linecap="butt"/>
<text transform="translate(76.5 1630.7) scale(0.96 1)" font-size="28" text-anchor="end" fill="#111">4</text>
<line x1="85.3" y1="2210.5" x2="380.4" y2="2210.5" stroke="#141414" stroke-width="2.6" stroke-linecap="butt"/>
<line x1="92.8" y1="2210.5" x2="92.8" y2="2219.2" stroke="#141414" stroke-width="2.6" stroke-linecap="butt"/>
<line x1="193.8" y1="2210.5" x2="193.8" y2="2219.2" stroke="#141414" stroke-width="2.6" stroke-linecap="butt"/>
<line x1="282.7" y1="2210.5" x2="282.7" y2="2219.2" stroke="#141414" stroke-width="2.6" stroke-linecap="butt"/>
<line x1="379.7" y1="2210.5" x2="379.7" y2="2219.2" stroke="#141414" stroke-width="2.6" stroke-linecap="butt"/>
<text transform="translate(149.3 2249.5) scale(0.96 1)" font-size="28" text-anchor="middle" fill="#111">3</text>
<text transform="translate(237.4 2249.5) scale(0.96 1)" font-size="28" text-anchor="middle" fill="#111">6</text>
<text transform="translate(331.2 2249.5) scale(0.96 1)" font-size="28" text-anchor="middle" fill="#111">12</text>
<text x="200.7" y="2290" font-size="28" fill="#111" textLength="100.3" lengthAdjust="spacingAndGlyphs">Time (h)</text>
<text x="26.7" y="2202.2" font-size="30" fill="#111" textLength="568.3" lengthAdjust="spacingAndGlyphs" transform="rotate(-90 26.7 2202.2)">Plasma Insulin level (normalized to control)</text>
<line x1="165.1" y1="1627.6" x2="340.9" y2="1627.6" stroke="#141414" stroke-width="2.5" stroke-linecap="butt"/>
<text class="hs" transform="translate(262 1617.9) scale(0.82 1)" font-size="27" text-anchor="middle" letter-spacing="3.4" fill="#111">###</text>
<line x1="165.1" y1="1687.6" x2="252" y2="1687.6" stroke="#141414" stroke-width="2.5" stroke-linecap="butt"/>
<text class="hs" transform="translate(212.9 1679.6) scale(0.82 1)" font-size="27" text-anchor="middle" letter-spacing="3.4" fill="#111">###</text>
<line x1="256.8" y1="1711.3" x2="349.5" y2="1711.3" stroke="#141414" stroke-width="2.5" stroke-linecap="butt"/>
<text class="hs" transform="translate(305.7 1703.7) scale(0.82 1)" font-size="27" text-anchor="middle" letter-spacing="3.4" fill="#111">##</text>
<text class="st" x="165.5" y="1719.4" font-size="22.5">*</text>
<text class="st" x="165.5" y="1731.1" font-size="22.5">*</text>
<text class="st" x="165.5" y="1742.8" font-size="22.5">*</text>
<text class="st" x="255.7" y="2081.3" font-size="22.5">*</text>
<text class="st" x="255.7" y="2093" font-size="22.5">*</text>
<text class="st" x="255.7" y="2104.7" font-size="22.5">*</text>
<text x="446" y="1429.9" font-size="66.5" fill="#111" class="let">F</text>
<rect x="508.7" y="1493.5" width="16.7" height="16.7" fill="#666666"/>
<text x="543.6" y="1510" font-size="29.5" fill="#111" textLength="191.8" lengthAdjust="spacingAndGlyphs" class="leg">Vehicle (n=14)</text>
<rect x="508.7" y="1530" width="16.7" height="16.7" fill="#333366"/>
<text x="543.6" y="1546.8" font-size="29.5" fill="#111" textLength="316.9" lengthAdjust="spacingAndGlyphs" class="leg">DON 12.5 mg/kg (n=14)</text>
<rect x="547.3" y="2062" width="35.8" height="148.8" fill="#666666"/>
<rect x="583.1" y="1774.6" width="37.5" height="436.2" fill="#333366"/>
<rect x="636.4" y="2062" width="36.1" height="148.8" fill="#666666"/>
<rect x="672.5" y="1968.8" width="35.7" height="242" fill="#333366"/>
<rect x="725.3" y="2062" width="35.5" height="148.8" fill="#666666"/>
<rect x="760.8" y="1942.3" width="36.3" height="268.5" fill="#333366"/>
<line x1="565.2" y1="2062" x2="565.2" y2="2033.9" stroke="#141414" stroke-width="2.1" stroke-linecap="butt"/>
<line x1="561" y1="2033.9" x2="569.4" y2="2033.9" stroke="#141414" stroke-width="2.1" stroke-linecap="butt"/>
<line x1="601.9" y1="1774.6" x2="601.9" y2="1753" stroke="#141414" stroke-width="2.1" stroke-linecap="butt"/>
<line x1="597.7" y1="1753" x2="606.1" y2="1753" stroke="#141414" stroke-width="2.1" stroke-linecap="butt"/>
<line x1="655.2" y1="2062" x2="655.2" y2="2048.6" stroke="#141414" stroke-width="2.1" stroke-linecap="butt"/>
<line x1="651" y1="2048.6" x2="659.4" y2="2048.6" stroke="#141414" stroke-width="2.1" stroke-linecap="butt"/>
<line x1="690.3" y1="1968.8" x2="690.3" y2="1959.1" stroke="#141414" stroke-width="2.1" stroke-linecap="butt"/>
<line x1="686.1" y1="1959.1" x2="694.5" y2="1959.1" stroke="#141414" stroke-width="2.1" stroke-linecap="butt"/>
<line x1="743.6" y1="2062" x2="743.6" y2="2028.1" stroke="#141414" stroke-width="2.1" stroke-linecap="butt"/>
<line x1="739.4" y1="2028.1" x2="747.8" y2="2028.1" stroke="#141414" stroke-width="2.1" stroke-linecap="butt"/>
<line x1="779.4" y1="1942.3" x2="779.4" y2="1902.8" stroke="#141414" stroke-width="2.1" stroke-linecap="butt"/>
<line x1="775.2" y1="1902.8" x2="783.6" y2="1902.8" stroke="#141414" stroke-width="2.1" stroke-linecap="butt"/>
<line x1="524.9" y1="1620" x2="526.3" y2="2212.5" stroke="#141414" stroke-width="2.7" stroke-linecap="butt"/>
<line x1="518.8" y1="2210.8" x2="526.3" y2="2210.8" stroke="#141414" stroke-width="2.6" stroke-linecap="butt"/>
<text transform="translate(513.5 2220.3) scale(0.96 1)" font-size="28" text-anchor="end" fill="#111">0</text>
<line x1="518.45" y1="2063.35" x2="525.95" y2="2063.35" stroke="#141414" stroke-width="2.6" stroke-linecap="butt"/>
<text transform="translate(513.5 2072.85) scale(0.96 1)" font-size="28" text-anchor="end" fill="#111">1</text>
<line x1="518.1" y1="1915.9" x2="525.6" y2="1915.9" stroke="#141414" stroke-width="2.6" stroke-linecap="butt"/>
<text transform="translate(513.5 1925.4) scale(0.96 1)" font-size="28" text-anchor="end" fill="#111">2</text>
<line x1="517.75" y1="1768.45" x2="525.25" y2="1768.45" stroke="#141414" stroke-width="2.6" stroke-linecap="butt"/>
<text transform="translate(513.5 1777.95) scale(0.96 1)" font-size="28" text-anchor="end" fill="#111">3</text>
<line x1="517.4" y1="1621" x2="524.9" y2="1621" stroke="#141414" stroke-width="2.6" stroke-linecap="butt"/>
<text transform="translate(513.5 1630.5) scale(0.96 1)" font-size="28" text-anchor="end" fill="#111">4</text>
<line x1="519.9" y1="2210.8" x2="814.3" y2="2210.8" stroke="#141414" stroke-width="2.6" stroke-linecap="butt"/>
<line x1="526.4" y1="2210.8" x2="526.4" y2="2219.5" stroke="#141414" stroke-width="2.6" stroke-linecap="butt"/>
<line x1="627.8" y1="2210.8" x2="627.8" y2="2219.5" stroke="#141414" stroke-width="2.6" stroke-linecap="butt"/>
<line x1="716.6" y1="2210.8" x2="716.6" y2="2219.5" stroke="#141414" stroke-width="2.6" stroke-linecap="butt"/>
<line x1="813.3" y1="2210.8" x2="813.3" y2="2219.5" stroke="#141414" stroke-width="2.6" stroke-linecap="butt"/>
<text transform="translate(583.5 2250.5) scale(0.96 1)" font-size="28" text-anchor="middle" fill="#111">3</text>
<text transform="translate(672 2250.5) scale(0.96 1)" font-size="28" text-anchor="middle" fill="#111">6</text>
<text transform="translate(762.5 2250.5) scale(0.96 1)" font-size="28" text-anchor="middle" fill="#111">12</text>
<text x="620.2" y="2290.6" font-size="28" fill="#111" textLength="99.2" lengthAdjust="spacingAndGlyphs">Time (h)</text>
<text x="473.1" y="2216.8" font-size="30" fill="#111" textLength="622" lengthAdjust="spacingAndGlyphs" transform="rotate(-90 473.1 2216.8)">Plasma Adrenaline level (normalized to control)</text>
<line x1="603" y1="1630" x2="778.8" y2="1630" stroke="#141414" stroke-width="2.5" stroke-linecap="butt"/>
<text class="hs" transform="translate(700.1 1619.9) scale(0.82 1)" font-size="27" text-anchor="middle" letter-spacing="3.4" fill="#111">###</text>
<line x1="603" y1="1690" x2="690.3" y2="1690" stroke="#141414" stroke-width="2.5" stroke-linecap="butt"/>
<text class="hs" transform="translate(659.7 1681.4) scale(0.82 1)" font-size="27" text-anchor="middle" letter-spacing="3.4" fill="#111">###</text>
<line x1="684.5" y1="1713.7" x2="766.9" y2="1713.7" stroke="#141414" stroke-width="2.5" stroke-linecap="butt"/>
<text class="hs" transform="translate(729.4 1705.1) scale(0.82 1)" font-size="27" text-anchor="middle" letter-spacing="3.4" fill="#111">##</text>
<text class="st" x="602.4" y="1728.3" font-size="22.5">*</text>
<text class="st" x="602.4" y="1740.55" font-size="22.5">*</text>
<text class="st" x="602.4" y="1752.8" font-size="22.5">*</text>
<text class="st" x="688.6" y="1929.8" font-size="22.5">*</text>
<text class="st" x="688.6" y="1941.55" font-size="22.5">*</text>
<text class="st" x="688.6" y="1953.3" font-size="22.5">*</text>
<text class="st" x="779.3" y="1898.45" font-size="22.5">*</text>
<text x="844.1" y="1429.9" font-size="66.5" fill="#111" class="let">G</text>
<rect x="923" y="1493.5" width="16.7" height="16.7" fill="#666666"/>
<text x="957.4" y="1510" font-size="29.5" fill="#111" textLength="174.7" lengthAdjust="spacingAndGlyphs" class="leg">Vehicle (n=7)</text>
<rect x="923" y="1530" width="16.7" height="16.7" fill="#333366"/>
<text x="957.4" y="1546.8" font-size="29.5" fill="#111" textLength="300.4" lengthAdjust="spacingAndGlyphs" class="leg">DON 12.5 mg/kg (n=7)</text>
<rect x="980.4" y="2145" width="36.4" height="65.3" fill="#666666"/>
<rect x="1016.8" y="1700.3" width="37" height="510" fill="#333366"/>
<rect x="1069.6" y="2145" width="36" height="65.3" fill="#666666"/>
<rect x="1105.6" y="2131" width="36.2" height="79.3" fill="#333366"/>
<rect x="1158.3" y="2145" width="36.1" height="65.3" fill="#666666"/>
<rect x="1194.4" y="2115.1" width="36.2" height="95.2" fill="#333366"/>
<line x1="998.2" y1="2145" x2="998.2" y2="2134.3" stroke="#141414" stroke-width="2.1" stroke-linecap="butt"/>
<line x1="994" y1="2134.3" x2="1002.4" y2="2134.3" stroke="#141414" stroke-width="2.1" stroke-linecap="butt"/>
<line x1="1035.6" y1="1700.3" x2="1035.6" y2="1679.3" stroke="#141414" stroke-width="2.1" stroke-linecap="butt"/>
<line x1="1031.4" y1="1679.3" x2="1039.8" y2="1679.3" stroke="#141414" stroke-width="2.1" stroke-linecap="butt"/>
<line x1="1088.7" y1="2145" x2="1088.7" y2="2133.9" stroke="#141414" stroke-width="2.1" stroke-linecap="butt"/>
<line x1="1084.5" y1="2133.9" x2="1092.9" y2="2133.9" stroke="#141414" stroke-width="2.1" stroke-linecap="butt"/>
<line x1="1124.2" y1="2131" x2="1124.2" y2="2115.1" stroke="#141414" stroke-width="2.1" stroke-linecap="butt"/>
<line x1="1120" y1="2115.1" x2="1128.4" y2="2115.1" stroke="#141414" stroke-width="2.1" stroke-linecap="butt"/>
<line x1="1176.3" y1="2145" x2="1176.3" y2="2130.1" stroke="#141414" stroke-width="2.1" stroke-linecap="butt"/>
<line x1="1172.1" y1="2130.1" x2="1180.5" y2="2130.1" stroke="#141414" stroke-width="2.1" stroke-linecap="butt"/>
<line x1="1212.8" y1="2115.1" x2="1212.8" y2="2093.1" stroke="#141414" stroke-width="2.1" stroke-linecap="butt"/>
<line x1="1208.6" y1="2093.1" x2="1217" y2="2093.1" stroke="#141414" stroke-width="2.1" stroke-linecap="butt"/>
<line x1="958.4" y1="1620.4" x2="960.4" y2="2212" stroke="#141414" stroke-width="2.7" stroke-linecap="butt"/>
<line x1="952.89" y1="2210.2" x2="960.39" y2="2210.2" stroke="#141414" stroke-width="2.6" stroke-linecap="butt"/>
<text transform="translate(945.5 2219.7) scale(0.96 1)" font-size="28" text-anchor="end" fill="#111">0</text>
<line x1="952.67" y1="2144.78" x2="960.17" y2="2144.78" stroke="#141414" stroke-width="2.6" stroke-linecap="butt"/>
<text transform="translate(945.5 2154.28) scale(0.96 1)" font-size="28" text-anchor="end" fill="#111">1</text>
<line x1="952.45" y1="2079.36" x2="959.95" y2="2079.36" stroke="#141414" stroke-width="2.6" stroke-linecap="butt"/>
<text transform="translate(945.5 2088.86) scale(0.96 1)" font-size="28" text-anchor="end" fill="#111">2</text>
<line x1="952.23" y1="2013.94" x2="959.73" y2="2013.94" stroke="#141414" stroke-width="2.6" stroke-linecap="butt"/>
<text transform="translate(945.5 2023.44) scale(0.96 1)" font-size="28" text-anchor="end" fill="#111">3</text>
<line x1="952.01" y1="1948.52" x2="959.51" y2="1948.52" stroke="#141414" stroke-width="2.6" stroke-linecap="butt"/>
<text transform="translate(945.5 1958.02) scale(0.96 1)" font-size="28" text-anchor="end" fill="#111">4</text>
<line x1="951.79" y1="1883.1" x2="959.29" y2="1883.1" stroke="#141414" stroke-width="2.6" stroke-linecap="butt"/>
<text transform="translate(945.5 1892.6) scale(0.96 1)" font-size="28" text-anchor="end" fill="#111">5</text>
<line x1="951.56" y1="1817.68" x2="959.06" y2="1817.68" stroke="#141414" stroke-width="2.6" stroke-linecap="butt"/>
<text transform="translate(945.5 1827.18) scale(0.96 1)" font-size="28" text-anchor="end" fill="#111">6</text>
<line x1="951.34" y1="1752.26" x2="958.84" y2="1752.26" stroke="#141414" stroke-width="2.6" stroke-linecap="butt"/>
<text transform="translate(945.5 1761.76) scale(0.96 1)" font-size="28" text-anchor="end" fill="#111">7</text>
<line x1="951.12" y1="1686.84" x2="958.62" y2="1686.84" stroke="#141414" stroke-width="2.6" stroke-linecap="butt"/>
<text transform="translate(945.5 1696.34) scale(0.96 1)" font-size="28" text-anchor="end" fill="#111">8</text>
<line x1="950.9" y1="1621.42" x2="958.4" y2="1621.42" stroke="#141414" stroke-width="2.6" stroke-linecap="butt"/>
<text transform="translate(945.5 1630.92) scale(0.96 1)" font-size="28" text-anchor="end" fill="#111">9</text>
<line x1="953" y1="2210.6" x2="1246.8" y2="2210.6" stroke="#141414" stroke-width="2.6" stroke-linecap="butt"/>
<line x1="960.3" y1="2210.6" x2="960.3" y2="2219.3" stroke="#141414" stroke-width="2.6" stroke-linecap="butt"/>
<line x1="1061.9" y1="2210.6" x2="1061.9" y2="2219.3" stroke="#141414" stroke-width="2.6" stroke-linecap="butt"/>
<line x1="1150.1" y1="2210.6" x2="1150.1" y2="2219.3" stroke="#141414" stroke-width="2.6" stroke-linecap="butt"/>
<line x1="1246" y1="2210.6" x2="1246" y2="2219.3" stroke="#141414" stroke-width="2.6" stroke-linecap="butt"/>
<text transform="translate(1018.9 2249.3) scale(0.96 1)" font-size="28" text-anchor="middle" fill="#111">3</text>
<text transform="translate(1107 2249.3) scale(0.96 1)" font-size="28" text-anchor="middle" fill="#111">6</text>
<text transform="translate(1196.6 2249.3) scale(0.96 1)" font-size="28" text-anchor="middle" fill="#111">12</text>
<text x="1057.1" y="2290.2" font-size="28" fill="#111" textLength="98.7" lengthAdjust="spacingAndGlyphs">Time (h)</text>
<text x="870.7" y="2098.3" font-size="30" fill="#111" textLength="370.6" lengthAdjust="spacingAndGlyphs" transform="rotate(-90 870.7 2098.3)">Plasma Corticosterone level</text>
<text x="900.4" y="2061.2" font-size="30" fill="#111" textLength="296.8" lengthAdjust="spacingAndGlyphs" transform="rotate(-90 900.4 2061.2)">(normalized to control)</text>
<line x1="1030.2" y1="1590.7" x2="1215.3" y2="1590.7" stroke="#141414" stroke-width="2.5" stroke-linecap="butt"/>
<text class="hs" transform="translate(1127.5 1584) scale(0.82 1)" font-size="27" text-anchor="middle" letter-spacing="3.4" fill="#111">###</text>
<line x1="1028.9" y1="1631.9" x2="1116" y2="1631.9" stroke="#141414" stroke-width="2.5" stroke-linecap="butt"/>
<text class="hs" transform="translate(1069 1624.6) scale(0.82 1)" font-size="27" text-anchor="middle" letter-spacing="3.4" fill="#111">###</text>
<text class="st" x="1034.5" y="1654.4" font-size="22.5">*</text>
<text class="st" x="1034.5" y="1666.15" font-size="22.5">*</text>
<text class="st" x="1034.5" y="1677.9" font-size="22.5">*</text>
<text x="1287.3" y="1429.7" font-size="66.5" fill="#111" class="let">H</text>
<rect x="1314.8" y="1451.5" width="16.7" height="16.7" fill="#666666"/>
<text x="1346.3" y="1467.7" font-size="29.5" fill="#111" textLength="351.7" lengthAdjust="spacingAndGlyphs" class="leg">Vehicle - 3, 6 or 12 h (n=9)</text>
<rect x="1314.8" y="1491" width="16.7" height="16.7" fill="#CCCCE6"/>
<text x="1346.3" y="1507.3" font-size="29.5" fill="#111" textLength="368.1" lengthAdjust="spacingAndGlyphs" class="leg">DON 12.5 mg/kg - 3 h (n=9)</text>
<rect x="1314.8" y="1532.3" width="16.7" height="16.7" fill="#9999CC"/>
<text x="1346.3" y="1548.4" font-size="29.5" fill="#111" textLength="382.4" lengthAdjust="spacingAndGlyphs" class="leg">DON 12.5 mg/kg - 6 h (n=11)</text>
<rect x="1314.8" y="1572.3" width="16.7" height="16.7" fill="#666699"/>
<text x="1346.3" y="1588.1" font-size="29.5" fill="#111" textLength="385.9" lengthAdjust="spacingAndGlyphs" class="leg">DON 12.5 mg/kg - 12 h (n=9)</text>
<rect x="1411.8" y="1840.7" width="35.7" height="369.4" fill="#666666"/>
<rect x="1447.5" y="1755.5" width="37.4" height="454.6" fill="#CCCCE6"/>
<rect x="1500.6" y="1840.7" width="36.2" height="369.4" fill="#666666"/>
<rect x="1536.8" y="2007.5" width="36.2" height="202.6" fill="#9999CC"/>
<rect x="1589.6" y="1840.7" width="35.9" height="369.4" fill="#666666"/>
<rect x="1625.5" y="1822" width="36.3" height="388.1" fill="#666699"/>
<line x1="1429.5" y1="1840.7" x2="1429.5" y2="1792.4" stroke="#141414" stroke-width="2.1" stroke-linecap="butt"/>
<line x1="1425.3" y1="1792.4" x2="1433.7" y2="1792.4" stroke="#141414" stroke-width="2.1" stroke-linecap="butt"/>
<line x1="1466.4" y1="1755.5" x2="1466.4" y2="1699" stroke="#141414" stroke-width="2.1" stroke-linecap="butt"/>
<line x1="1462.2" y1="1699" x2="1470.6" y2="1699" stroke="#141414" stroke-width="2.1" stroke-linecap="butt"/>
<line x1="1518.3" y1="1840.7" x2="1518.3" y2="1787.8" stroke="#141414" stroke-width="2.1" stroke-linecap="butt"/>
<line x1="1514.1" y1="1787.8" x2="1522.5" y2="1787.8" stroke="#141414" stroke-width="2.1" stroke-linecap="butt"/>
<line x1="1555.4" y1="2007.5" x2="1555.4" y2="1974" stroke="#141414" stroke-width="2.1" stroke-linecap="butt"/>
<line x1="1551.2" y1="1974" x2="1559.6" y2="1974" stroke="#141414" stroke-width="2.1" stroke-linecap="butt"/>
<line x1="1607.1" y1="1840.7" x2="1607.1" y2="1769.2" stroke="#141414" stroke-width="2.1" stroke-linecap="butt"/>
<line x1="1602.9" y1="1769.2" x2="1611.3" y2="1769.2" stroke="#141414" stroke-width="2.1" stroke-linecap="butt"/>
<line x1="1643.6" y1="1822" x2="1643.6" y2="1793.1" stroke="#141414" stroke-width="2.1" stroke-linecap="butt"/>
<line x1="1639.4" y1="1793.1" x2="1647.8" y2="1793.1" stroke="#141414" stroke-width="2.1" stroke-linecap="butt"/>
<line x1="1388.7" y1="1619.9" x2="1391.3" y2="2212" stroke="#141414" stroke-width="2.7" stroke-linecap="butt"/>
<line x1="1383.79" y1="2210.1" x2="1391.29" y2="2210.1" stroke="#141414" stroke-width="2.6" stroke-linecap="butt"/>
<text transform="translate(1379 2219.6) scale(0.96 1)" font-size="28" text-anchor="end" fill="#111">0</text>
<line x1="1383.14" y1="2062.8" x2="1390.64" y2="2062.8" stroke="#141414" stroke-width="2.6" stroke-linecap="butt"/>
<text transform="translate(1379 2072.3) scale(0.96 1)" font-size="28" text-anchor="end" fill="#111">0.4</text>
<line x1="1382.5" y1="1915.5" x2="1390" y2="1915.5" stroke="#141414" stroke-width="2.6" stroke-linecap="butt"/>
<text transform="translate(1379 1925) scale(0.96 1)" font-size="28" text-anchor="end" fill="#111">0.8</text>
<line x1="1381.85" y1="1768.2" x2="1389.35" y2="1768.2" stroke="#141414" stroke-width="2.6" stroke-linecap="butt"/>
<text transform="translate(1379 1777.7) scale(0.96 1)" font-size="28" text-anchor="end" fill="#111">1.2</text>
<line x1="1381.2" y1="1620.9" x2="1388.7" y2="1620.9" stroke="#141414" stroke-width="2.6" stroke-linecap="butt"/>
<text transform="translate(1379 1630.4) scale(0.96 1)" font-size="28" text-anchor="end" fill="#111">1.6</text>
<line x1="1385.1" y1="2210.8" x2="1678.9" y2="2210.8" stroke="#141414" stroke-width="2.6" stroke-linecap="butt"/>
<line x1="1391.3" y1="2210.8" x2="1391.3" y2="2219.5" stroke="#141414" stroke-width="2.6" stroke-linecap="butt"/>
<line x1="1492.2" y1="2210.8" x2="1492.2" y2="2219.5" stroke="#141414" stroke-width="2.6" stroke-linecap="butt"/>
<line x1="1580.9" y1="2210.8" x2="1580.9" y2="2219.5" stroke="#141414" stroke-width="2.6" stroke-linecap="butt"/>
<line x1="1677" y1="2210.8" x2="1677" y2="2219.5" stroke="#141414" stroke-width="2.6" stroke-linecap="butt"/>
<text transform="translate(1448.1 2249.5) scale(0.96 1)" font-size="28" text-anchor="middle" fill="#111">3</text>
<text transform="translate(1536.6 2249.5) scale(0.96 1)" font-size="28" text-anchor="middle" fill="#111">6</text>
<text transform="translate(1627 2249.5) scale(0.96 1)" font-size="28" text-anchor="middle" fill="#111">12</text>
<text x="1484.2" y="2289.8" font-size="28" fill="#111" textLength="99" lengthAdjust="spacingAndGlyphs">Time (h)</text>
<text x="1322.9" y="2170.8" font-size="30" fill="#111" textLength="463.4" lengthAdjust="spacingAndGlyphs" transform="rotate(-90 1322.9 2170.8)">Relative PEPCK mRNA expression</text>
<line x1="1459.8" y1="1672.4" x2="1552.5" y2="1672.4" stroke="#141414" stroke-width="2.5" stroke-linecap="butt"/>
<text class="hs" transform="translate(1516.3 1664.2) scale(0.82 1)" font-size="27" text-anchor="middle" letter-spacing="3.4" fill="#111">###</text>
<line x1="1553.2" y1="1690.4" x2="1635.6" y2="1690.4" stroke="#141414" stroke-width="2.5" stroke-linecap="butt"/>
<text class="hs" transform="translate(1597.2 1664.9) scale(0.82 1)" font-size="27" text-anchor="middle" letter-spacing="3.4" fill="#111">##</text>
<text class="st" x="1556.5" y="1956.5" font-size="22.5">*</text>
<text class="st" x="1556.5" y="1969.3" font-size="22.5">*</text>
</svg></body></html>
